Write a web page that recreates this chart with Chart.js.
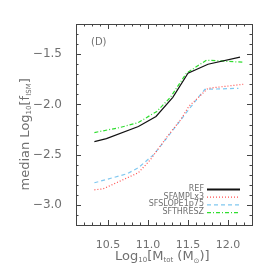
<!DOCTYPE html>
<html>
<head>
<meta charset="utf-8">
<script src="https://cdn.jsdelivr.net/npm/chart.js@4/dist/chart.umd.min.js"></script>
<style>
  html, body { margin: 0; padding: 0; background: #fff; }
  #wrap { width: 274px; height: 274px; }
</style>
</head>
<body>
<div id="wrap"><canvas id="c" width="274" height="274"></canvas></div>
<script>
// series
var refX = [10.33, 10.48, 10.88, 11.10, 11.31, 11.50, 11.75, 12.15];
var refY = [-2.37, -2.34, -2.22, -2.12, -1.93, -1.69, -1.60, -1.53];
var amplX = [10.33, 10.44, 10.88, 11.03, 11.24, 11.41, 11.51, 11.75, 12.19];
var amplY = [-2.85, -2.84, -2.68, -2.55, -2.32, -2.15, -2.02, -1.84, -1.80];
var slopeX = [10.33, 10.74, 10.88, 11.07, 11.24, 11.51, 11.71, 12.13];
var slopeY = [-2.78, -2.69, -2.63, -2.50, -2.33, -2.05, -1.85, -1.84];
var threszX = [10.33, 10.65, 10.88, 11.11, 11.28, 11.48, 11.73, 12.18];
var threszY = [-2.28, -2.23, -2.18, -2.07, -1.93, -1.69, -1.56, -1.58];
var seriesNames = ['REF', 'SFAMPLx3', 'SFSLOPE1p75', 'SFTHRESZ'];
var xTicks = [10.5, 11.0, 11.5, 12.0];
var yTicks = [-3.0, -2.5, -2.0, -1.5];
var panelLabel = '(D)';

function pts(xs, ys) {
  return xs.map(function (x, i) { return { x: x, y: ys[i] }; });
}

const textColor = '#707070';
const axisColor = '#444';

// frame, inward ticks (major+minor), titles and legend, IDL style
const idlFrame = {
  id: 'idlFrame',
  afterDraw(chart) {
    const ctx = chart.ctx;
    const a = chart.chartArea;
    const xs = chart.scales.x, ys = chart.scales.y;
    ctx.save();
    ctx.strokeStyle = axisColor;
    ctx.lineWidth = 1;
    ctx.strokeRect(a.left + 0.5, a.top + 0.5, a.right - a.left, a.bottom - a.top);
    ctx.beginPath();
    for (let k = Math.ceil(xs.min * 10 + 1e-6); k <= Math.floor(xs.max * 10 + 1e-6); k++) {
      const v = k / 10;
      const px = Math.round(xs.getPixelForValue(v)) + 0.5;
      const len = (k % 5 === 0) ? 5 : 2.5;
      ctx.moveTo(px, a.bottom); ctx.lineTo(px, a.bottom - len);
      ctx.moveTo(px, a.top); ctx.lineTo(px, a.top + len);
    }
    for (let k = Math.ceil(ys.min * 10 - 1e-6); k <= Math.floor(ys.max * 10 + 1e-6); k++) {
      const v = k / 10;
      const py = Math.round(ys.getPixelForValue(v)) + 0.5;
      const len = (k % 5 === 0) ? 5 : 2.5;
      ctx.moveTo(a.left, py); ctx.lineTo(a.left + len, py);
      ctx.moveTo(a.right, py); ctx.lineTo(a.right - len, py);
    }
    ctx.stroke();

    ctx.fillStyle = textColor;
    ctx.textBaseline = 'middle';
    // panel label
    ctx.font = '10px "DejaVu Sans"';
    ctx.textAlign = 'left';
    ctx.fillText(panelLabel, a.left + 15, a.top + 18);

    // x title: Log10[Mtot (M⊙)]
    let cx = (a.left + a.right) / 2 - 49, cy = 257;
    const part = (t, size, dy) => {
      ctx.font = size + 'px "DejaVu Sans"';
      ctx.fillText(t, cx, cy + dy);
      cx += ctx.measureText(t).width;
    };
    ctx.textAlign = 'left';
    part('Log', 13, 0);
    part('10', 7, 3);
    part('[M', 13, 0);
    part('tot', 7, 3);
    part(' (M', 13, 0);
    part('\u2299', 7, 4);
    part(')]', 13, 0);

    // y title: median Log10[fISM]
    ctx.save();
    ctx.translate(26, (a.top + a.bottom) / 2 + 66);
    ctx.rotate(-Math.PI / 2);
    cx = 0; cy = 0;
    part('median Log', 13, 0);
    part('10', 7, 3);
    part('[f', 13, 0);
    part('ISM', 7, 3);
    part(']', 13, 0);
    ctx.restore();

    // legend, text right-aligned before the line sample
    ctx.font = '8px "DejaVu Sans"';
    ctx.textAlign = 'right';
    chart.data.datasets.forEach(function (ds, i) {
      const y = 189 + i * 7.7;
      ctx.fillStyle = textColor;
      ctx.fillText(ds.label, 204, y);
      ctx.strokeStyle = ds.borderColor;
      ctx.lineWidth = i === 0 ? 2 : 1.3;
      ctx.setLineDash(ds.borderDash || []);
      ctx.beginPath();
      ctx.moveTo(207, y + 0.5);
      ctx.lineTo(240, y + 0.5);
      ctx.stroke();
    });
    ctx.setLineDash([]);
    ctx.restore();
  }
};

new Chart(document.getElementById('c'), {
  type: 'line',
  data: {
    datasets: [{
      label: seriesNames[0],
      data: pts(refX, refY),
      borderColor: '#111',
      borderWidth: 1.2,
    }, {
      label: seriesNames[1],
      data: pts(amplX, amplY),
      borderColor: '#ff5050',
      borderWidth: 1.2,
      borderDash: [1, 2],
    }, {
      label: seriesNames[2],
      data: pts(slopeX, slopeY),
      borderColor: '#80c8f0',
      borderWidth: 1.2,
      borderDash: [4, 3],
    }, {
      label: seriesNames[3],
      data: pts(threszX, threszY),
      borderColor: '#30dd30',
      borderWidth: 1.2,
      borderDash: [4, 2, 1, 2],
    }]
  },
  options: {
    responsive: false,
    animation: false,
    devicePixelRatio: 1,
    elements: { point: { radius: 0 }, line: { tension: 0 } },
    layout: { padding: { top: 24, right: 22, left: 0, bottom: 0 } },
    plugins: { legend: { display: false }, tooltip: { enabled: false } },
    scales: {
      x: {
        type: 'linear',
        min: 10.1,
        max: 12.3,
        afterFit: function (s) { s.height = 49; },
        afterBuildTicks: function (s) { s.ticks = xTicks.map(v => ({ value: v })); },
        grid: { display: false },
        border: { display: false },
        ticks: {
          color: textColor,
          font: { family: 'DejaVu Sans', size: 11 },
          padding: 6,
          maxRotation: 0,
          callback: v => v.toFixed(1)
        }
      },
      y: {
        type: 'linear',
        min: -3.2,
        max: -1.2,
        afterFit: function (s) { s.width = 76; },
        afterBuildTicks: function (s) { s.ticks = yTicks.map(v => ({ value: v })); },
        grid: { display: false },
        border: { display: false },
        ticks: {
          color: textColor,
          font: { family: 'DejaVu Sans', size: 12 },
          padding: 6,
          callback: v => '\u2212' + Math.abs(v).toFixed(1)
        }
      }
    }
  },
  plugins: [idlFrame]
});
</script>
</body>
</html>
